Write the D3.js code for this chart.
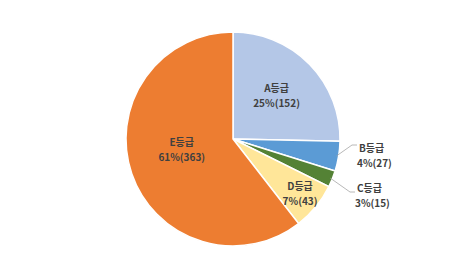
<!DOCTYPE html>
<html>
<head>
<meta charset="utf-8">
<script src="https://cdn.jsdelivr.net/npm/d3@7/dist/d3.min.js"></script>
<style>
  body { margin: 0; background: #fff; }
  text { font-family: "Noto Sans CJK KR", "Noto Sans", sans-serif; font-weight: bold; fill: #404040; }
</style>
</head>
<body>
<div id="chart"></div>
<script>
const grades = ['A등급', 'B등급', 'C등급', 'D등급', 'E등급'];
const counts = [152, 27, 15, 43, 363];
const percents = ['25%', '4%', '3%', '7%', '61%'];
const colors = ['#B4C7E7', '#5B9BD5', '#548235', '#FFE699', '#ED7D31'];

const width = 466, height = 278;
const cx = 233, cy = 139, r = 107;

const svg = d3.select('#chart').append('svg')
    .attr('width', width)
    .attr('height', height);

const g = svg.append('g').attr('transform', `translate(${cx},${cy})`);

const data = grades.map((name, i) => ({ name, value: counts[i], pct: percents[i], color: colors[i] }));

const pie = d3.pie().sort(null).value(d => d.value);
const arcs = pie(data);
const arc = d3.arc().innerRadius(0).outerRadius(r);

g.selectAll('path')
    .data(arcs)
    .join('path')
    .attr('d', arc)
    .attr('fill', d => d.data.color)
    .attr('stroke', '#fff')
    .attr('stroke-width', 1.5);

// 라벨 위치 (inside: 반지름 비율, outside: 지시선 꺾이는 점)
const inside = { 'A등급': 0.57, 'D등급': 0.81, 'E등급': 0.49 };
const angleShift = { 'E등급': 0.12 };
const elbow = { 'B등급': [119, 6, 7], 'C등급': [117, 53, 0] };

arcs.forEach(d => {
    const name = d.data.name;
    let x, y, anchor = 'middle';
    if (inside[name] !== undefined) {
        const a = (d.startAngle + d.endAngle) / 2 + (angleShift[name] || 0);
        const rr = r * inside[name];
        x = Math.sin(a) * rr;
        y = -Math.cos(a) * rr;
    } else {
        // 바깥 라벨 + 지시선
        const a = (d.startAngle + d.endAngle) / 2;
        const p0 = [Math.sin(a) * r * 0.98, -Math.cos(a) * r * 0.98];
        const p1 = elbow[name].slice(0, 2);
        const p2 = [p1[0] + 5, p1[1]];
        g.append('polyline')
            .attr('points', [p0, p1, p2].map(p => p.join(',')).join(' '))
            .attr('fill', 'none')
            .attr('stroke', '#A6A6A6')
            .attr('stroke-width', 0.8);
        x = p2[0] + 2;
        y = p1[1] + 4 + elbow[name][2];
        anchor = 'start';
    }
    const t = g.append('text')
        .attr('text-anchor', anchor)
        .attr('font-size', 10);
    t.append('tspan').attr('x', x).attr('y', y - 4).text(name);
    t.append('tspan').attr('x', anchor === 'start' ? x - 2 : x).attr('y', y + 11).text(`${d.data.pct}(${d.data.value})`);
});
</script>
</body>
</html>
